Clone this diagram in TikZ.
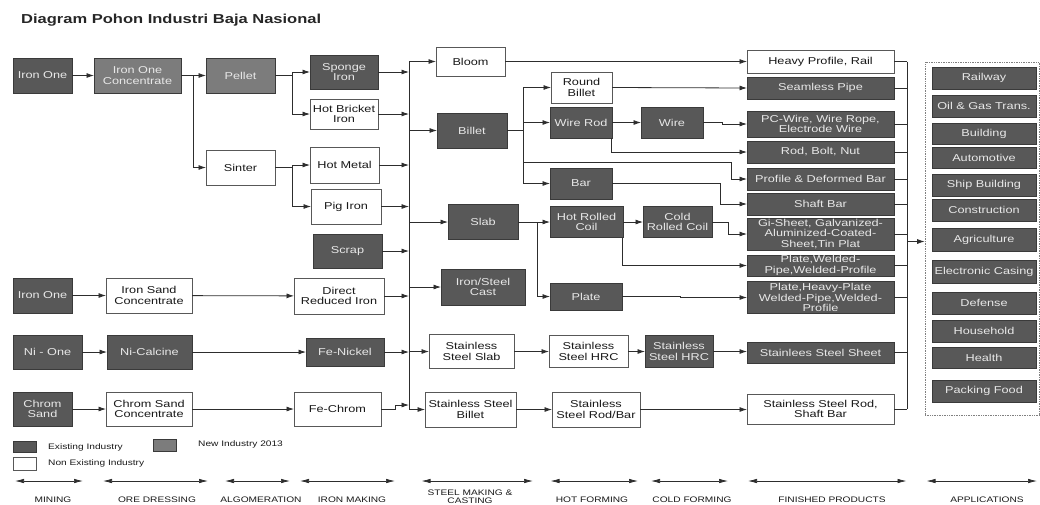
\documentclass[tikz,border=0pt]{standalone}
\usepackage{fontspec}
\setmainfont{Liberation Sans}[FakeStretch=1.27]
\usetikzlibrary{arrows.meta,calc}
\definecolor{cDark}{RGB}{88,88,88}
\definecolor{cMed}{RGB}{124,124,124}
\definecolor{cLine}{RGB}{45,45,45}
\definecolor{cBord}{RGB}{58,58,58}
\definecolor{cLite}{RGB}{232,232,232}
\definecolor{cText}{RGB}{25,25,25}
\tikzset{
  box/.style={draw=cBord, line width=0.9pt, inner sep=0pt, outer sep=0pt, align=center,
    font=\fontsize{10}{10.5}\selectfont},
  dkbox/.style={box, fill=cDark, text=cLite},
  mdbox/.style={box, fill=cMed, text=cLite},
  whbox/.style={box, fill=white, text=cText, draw=cBord!85},
  arr/.style={draw=cLine, line width=0.8pt, -{Latex[length=7.5pt,width=5pt]}},
  wire/.style={draw=cLine, line width=0.8pt},
  tline/.style={draw=cLine, line width=0.7pt, {Latex[length=9pt,width=4.5pt]}-{Latex[length=9pt,width=4.5pt]}},
  tlabel/.style={font=\fontsize{8}{8.5}\selectfont, text=cText, align=center, inner sep=0pt},
  legtext/.style={font=\fontsize{8}{9}\selectfont, text=cText, anchor=west, inner sep=0pt},
}
\begin{document}
\begin{tikzpicture}[x=1pt,y=-1pt]
\useasboundingbox (0,0) rectangle (1040,504);
\node[anchor=west, inner sep=0pt, font=\bfseries\fontsize{13}{15}\selectfont, text=black!85] (title) at (21,20) {Diagram Pohon Industri Baja Nasional};

% ---- mining / ore dressing / agglomeration / iron making
\node[dkbox, minimum width=59pt, minimum height=35pt] (ione) at (42.5,75.5) {Iron One};
\node[mdbox, minimum width=87pt, minimum height=35pt] (ioc) at (137.5,75.5) {Iron One\\Concentrate};
\node[mdbox, minimum width=69pt, minimum height=35pt] (pellet) at (240.5,75.5) {Pellet};
\node[whbox, minimum width=69pt, minimum height=35pt] (sinter) at (240.5,167.5) {Sinter};
\node[dkbox, minimum width=68pt, minimum height=34pt] (sponge) at (344,72) {Sponge\\Iron};
\node[whbox, minimum width=68pt, minimum height=30pt] (hbi) at (344,114) {Hot Bricket\\Iron};
\node[whbox, minimum width=69pt, minimum height=36pt] (hotmetal) at (344.5,165) {Hot Metal};
\node[whbox, minimum width=70pt, minimum height=35pt] (pig) at (346,206.5) {Pig Iron};
\node[dkbox, minimum width=69pt, minimum height=34pt] (scrap) at (347.5,251) {Scrap};
\node[dkbox, minimum width=59pt, minimum height=35pt] (ione2) at (42.5,295.5) {Iron One};
\node[whbox, minimum width=86pt, minimum height=35pt] (isc) at (149,295.5) {Iron Sand\\Concentrate};
\node[whbox, minimum width=90pt, minimum height=36pt] (dri) at (339,296) {Direct\\Reduced Iron};
\node[dkbox, minimum width=69pt, minimum height=34pt] (nione) at (47.5,352) {Ni - One};
\node[dkbox, minimum width=85pt, minimum height=34pt] (nical) at (149.5,352) {Ni-Calcine};
\node[dkbox, minimum width=78pt, minimum height=28pt] (fenickel) at (345,352) {Fe-Nickel};
\node[dkbox, minimum width=59pt, minimum height=34pt] (chrom) at (42.5,409) {Chrom\\Sand};
\node[whbox, minimum width=86pt, minimum height=34pt] (csc) at (149,409) {Chrom Sand\\Concentrate};
\node[whbox, minimum width=87pt, minimum height=34pt] (fechrom) at (337.5,409) {Fe-Chrom};

% ---- steel making
\node[whbox, minimum width=69pt, minimum height=29pt] (bloom) at (470.5,61.5) {Bloom};
\node[dkbox, minimum width=70pt, minimum height=35pt] (billet) at (472,130.5) {Billet};
\node[dkbox, minimum width=70pt, minimum height=35pt] (slab) at (483,222) {Slab};
\node[dkbox, minimum width=84pt, minimum height=36pt] (cast) at (483,287) {Iron/Steel\\Cast};
\node[whbox, minimum width=85pt, minimum height=34pt] (sss) at (471.5,351.5) {Stainless\\Steel Slab};
\node[whbox, minimum width=91pt, minimum height=35pt] (ssb) at (470.5,409.5) {Stainless Steel\\Billet};

% ---- hot forming
\node[whbox, minimum width=61pt, minimum height=31pt] (rbillet) at (581.5,87.5) {Round\\Billet};
\node[dkbox, minimum width=62pt, minimum height=31pt] (wirerod) at (581,122.5) {Wire Rod};
\node[dkbox, minimum width=62pt, minimum height=31pt] (bar) at (581,183.5) {Bar};
\node[dkbox, minimum width=73pt, minimum height=31pt] (hrc) at (586.5,222) {Hot Rolled\\Coil};
\node[dkbox, minimum width=72pt, minimum height=27pt] (plate) at (586,296.5) {Plate};
\node[whbox, minimum width=79pt, minimum height=32pt] (sshrc) at (588.5,351.5) {Stainless\\Steel HRC};
\node[whbox, minimum width=88pt, minimum height=35pt] (ssrod) at (596,409.5) {Stainless\\Steel Rod/Bar};

% ---- cold forming
\node[dkbox, minimum width=62pt, minimum height=31pt] (wiren) at (672,122.5) {Wire};
\node[dkbox, minimum width=69pt, minimum height=31pt] (crc) at (677.5,222) {Cold\\Rolled Coil};
\node[dkbox, minimum width=68pt, minimum height=32pt] (sshrc2) at (679,351.5) {Stainless\\Steel HRC};

% ---- finished products
\node[whbox, minimum width=147pt, minimum height=23pt] (heavy) at (820.5,61.5) {Heavy Profile, Rail};
\node[dkbox, minimum width=147pt, minimum height=22pt] (seamless) at (820.5,88) {Seamless Pipe};
\node[dkbox, minimum width=147pt, minimum height=26pt] (pcwire) at (820.5,124) {PC-Wire, Wire Rope,\\Electrode Wire};
\node[dkbox, minimum width=147pt, minimum height=22pt] (rod) at (820.5,152) {Rod, Bolt, Nut};
\node[dkbox, minimum width=147pt, minimum height=22pt] (profile) at (820.5,179) {Profile \& Deformed Bar};
\node[dkbox, minimum width=147pt, minimum height=22pt] (shaft) at (820.5,204) {Shaft Bar};
\node[dkbox, minimum width=147pt, minimum height=32pt] (gi) at (820.5,234) {Gi-Sheet, Galvanized-\\Aluminized-Coated-\\Sheet,Tin Plat};
\node[dkbox, minimum width=147pt, minimum height=21pt] (pwp) at (820.5,265.5) {Plate,Welded-\\Pipe,Welded-Profile};
\node[dkbox, minimum width=147pt, minimum height=32pt] (phw) at (820.5,297.5) {Plate,Heavy-Plate\\Welded-Pipe,Welded-\\Profile};
\node[dkbox, minimum width=147pt, minimum height=21pt] (sssheet) at (820.5,352.5) {Stainlees Steel Sheet};
\node[whbox, minimum width=147pt, minimum height=30pt] (ssrs) at (820.5,409) {Stainless Steel Rod,\\Shaft Bar};

% ---- applications
\node[draw=gray, densely dotted, line width=0.7pt, minimum width=114pt, minimum height=353pt, inner sep=0pt] (apps) at (982,238.5) {};
\node[dkbox, minimum width=104pt, minimum height=22pt] (a1) at (984,78) {Railway};
\node[dkbox, minimum width=104pt, minimum height=22pt] (a2) at (984,106) {Oil \& Gas Trans.};
\node[dkbox, minimum width=104pt, minimum height=21pt] (a3) at (984,133.5) {Building};
\node[dkbox, minimum width=104pt, minimum height=21pt] (a4) at (984,157.5) {Automotive};
\node[dkbox, minimum width=104pt, minimum height=22pt] (a5) at (984,185) {Ship Building};
\node[dkbox, minimum width=104pt, minimum height=22pt] (a6) at (984,210) {Construction};
\node[dkbox, minimum width=104pt, minimum height=23pt] (a7) at (984,239.5) {Agriculture};
\node[dkbox, minimum width=104pt, minimum height=23pt] (a8) at (984,271.5) {Electronic Casing};
\node[dkbox, minimum width=104pt, minimum height=22pt] (a9) at (984,303) {Defense};
\node[dkbox, minimum width=104pt, minimum height=22pt] (a10) at (984,331) {Household};
\node[dkbox, minimum width=104pt, minimum height=21pt] (a11) at (984,357.5) {Health};
\node[dkbox, minimum width=104pt, minimum height=22pt] (a12) at (984,391) {Packing Food};

% ---- connectors, left part
\coordinate (j1) at (193,75.5);
\coordinate (j2) at (292,75.5);
\coordinate (j3) at (292,167.5);
\draw[arr] (ione) -- (ioc);
\draw[arr] (ioc) -- (pellet);
\draw[arr] (j1) |- (sinter.west);
\draw[arr] (pellet.east) -- (j2) |- (sponge.west);
\draw[arr] (j2) |- (hbi.west);
\draw[arr] (sinter.east) -- (j3) |- (hotmetal.west);
\draw[arr] (j3) |- (pig.west);
\draw[arr] (ione2) -- (isc);
\draw[arr] (isc) -- (dri);
\draw[arr] (nione) -- (nical);
\draw[arr] (nical) -- (fenickel);
\draw[arr] (chrom) -- (csc);
\draw[arr] (csc) -- (fechrom);

% ---- bus into steel making
\coordinate (bt) at (409,61.5);
\coordinate (bb) at (409,409.5);
\coordinate (bfc) at (409,405);
\draw[wire] (bt) -- (bb);
\draw[arr] (sponge.east) -- (sponge.east -| bt);
\draw[arr] (hbi.east) -- (hbi.east -| bt);
\draw[arr] (hotmetal.east) -- (hotmetal.east -| bt);
\draw[arr] (pig.east) -- (pig.east -| bt);
\draw[arr] (scrap.east) -- (scrap.east -| bt);
\draw[arr] (dri.east) -- (dri.east -| bt);
\draw[arr] (fenickel.east) -- (fenickel.east -| bt);
\draw[arr] (fechrom.east) -- (395,409) |- (bfc);
\draw[arr] (bt) -- (bloom.west);
\draw[arr] (billet.west -| bt) -- (billet.west);
\draw[arr] (slab.west -| bt) -- (slab.west);
\draw[arr] (cast.west -| bt) -- (cast.west);
\draw[arr] (sss.west -| bt) -- (sss.west);
\draw[arr] (bb) -- (ssb.west);

% ---- billet branches
\coordinate (jb) at (523,130.5);
\coordinate (jp) at (731.5,162.5);
\draw[wire] (billet.east) -- (jb);
\draw[wire] (rbillet.west -| jb) -- (bar.west -| jb);
\draw[arr] (rbillet.west -| jb) -- (rbillet.west);
\draw[arr] (wirerod.west -| jb) -- (wirerod.west);
\draw[arr] (bar.west -| jb) -- (bar.west);
\draw[arr] (jb |- jp) -- (jp) |- (profile.west);

% ---- slab branches
\coordinate (js) at (537,222);
\draw[wire] (slab.east) -- (js);
\draw[wire] (js) -- (plate.west -| js);
\draw[arr] (js) -- (hrc.west);
\draw[arr] (plate.west -| js) -- (plate.west);

% ---- forming to products
\draw[arr] (bloom) -- (heavy.west |- bloom);
\draw[arr] (rbillet.east) -- (seamless.west);
\draw[arr] (wirerod) -- (wiren);
\draw[arr] (wiren.east) -- (722,122.5) |- (pcwire.west);
\draw[arr] ($(wirerod.south east)+(-0.5,0)$) |- (rod.west);
\draw[arr] (bar.east) -- (720,183.5) |- (shaft.west);
\draw[arr] (hrc) -- (crc);
\draw[arr] (crc.east) -- (728,222) |- (gi.west);
\draw[arr] ($(hrc.south east)+(-1,0)$) |- (pwp.west);
\draw[arr] (plate.east) -- (680,296.5) |- (phw.west);
\draw[arr] (sss) -- (sshrc);
\draw[arr] (sshrc) -- (sshrc2);
\draw[arr] (sshrc2) -- (sssheet.west |- sshrc2);
\draw[arr] (ssb) -- (ssrod);
\draw[arr] (ssrod) -- (ssrs.west |- ssrod);

% ---- right bus to applications
\coordinate (rt) at (907,61.5);
\coordinate (rb) at (907,409);
\coordinate (rm) at (907,241.5);
\draw[wire] (rt) -- (rb);
\foreach \n in {heavy,seamless,pcwire,rod,profile,shaft,gi,pwp,phw,sssheet,ssrs}
  \draw[wire] (\n.east) -- (\n.east -| rt);
\draw[arr] (rm) -- (apps.west |- rm);

% ---- legend
\node[box, fill=cDark, minimum width=23pt, minimum height=11pt] (lg1) at (25,447) {};
\node[legtext] (lt1) at (48,447) {Existing Industry};
\node[box, fill=cMed, minimum width=23pt, minimum height=12pt] (lg2) at (165,445.5) {};
\node[legtext] (lt2) at (198,444) {New Industry 2013};
\node[box, fill=white, draw=cBord!85, minimum width=23pt, minimum height=13pt] (lg3) at (25,463.5) {};
\node[legtext] (lt3) at (48,463) {Non Existing Industry};

% ---- timeline
\draw[tline] (15,481) -- (83,481);
\draw[tline] (103,481) -- (208,481);
\draw[tline] (225,481) -- (290,481);
\draw[tline] (300,481) -- (395,481);
\draw[tline] (421.5,481) -- (533,481);
\draw[tline] (550.5,481) -- (638,481);
\draw[tline] (651,481) -- (728,481);
\draw[tline] (748,481) -- (906.5,481);
\draw[tline] (926.5,481) -- (1037,481);
\node[tlabel] (l1) at (53,499.5) {MINING};
\node[tlabel] (l2) at (157,499.5) {ORE DRESSING};
\node[tlabel] (l3) at (261,499.5) {ALGOMERATION};
\node[tlabel] (l4) at (352,499.5) {IRON MAKING};
\node[tlabel, font=\fontsize{8}{8.3}\selectfont] (l5) at (470,497) {STEEL MAKING \&\\CASTING};
\node[tlabel] (l6) at (592,499.5) {HOT FORMING};
\node[tlabel] (l7) at (692,499.5) {COLD FORMING};
\node[tlabel] (l8) at (832,499.5) {FINISHED PRODUCTS};
\node[tlabel] (l9) at (987,499.5) {APPLICATIONS};
\end{tikzpicture}
\end{document}
